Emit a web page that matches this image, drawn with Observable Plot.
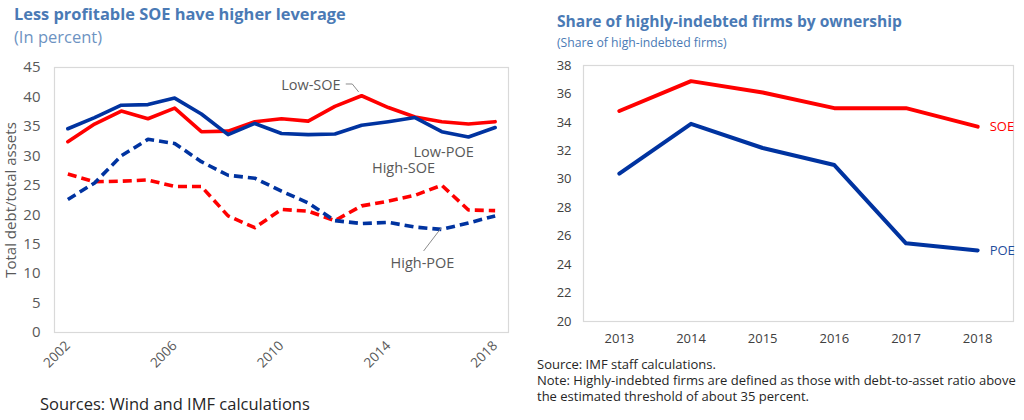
<!DOCTYPE html>
<html>
<head>
<meta charset="utf-8">
<script src="https://cdn.jsdelivr.net/npm/d3@7"></script>
<script src="https://cdn.jsdelivr.net/npm/@observablehq/plot@0.6"></script>
<style>
  body { margin: 0; background: #fff; font-family: "Open Sans", sans-serif; }
  #page { position: relative; width: 1024px; height: 420px; overflow: hidden; background: #fff; }
  .t { position: absolute; white-space: nowrap; line-height: 1; }
  .title { font-weight: 700; color: #4a7ab5; }
  .sub { color: #6d93c2; }
  .note { color: #262626; }
  #left, #right { position: absolute; top: 50px; }
  #left { left: 0; }
  #right { left: 520px; }
</style>
</head>
<body>
<div id="page">
  <div class="t title" style="left:14px;top:6px;font-size:16.4px">Less profitable SOE have higher leverage</div>
  <div class="t sub" style="left:14px;top:29px;font-size:16.5px">(In percent)</div>
  <div class="t title" style="left:557px;top:14px;font-size:15.6px">Share of highly-indebted firms by ownership</div>
  <div class="t sub" style="left:557px;top:37px;font-size:12.2px;color:#4a7ab5">(Share of high-indebted firms)</div>
  <div id="left"></div>
  <div id="right"></div>
  <div class="t note" style="left:40px;top:396px;font-size:16.5px">Sources: Wind and IMF calculations</div>
  <div class="t note" style="left:537px;top:358px;font-size:13px">Source: IMF staff calculations.</div>
  <div class="t note" style="left:537px;top:374px;font-size:13px">Note: Highly-indebted firms are defined as those with debt-to-asset ratio above</div>
  <div class="t note" style="left:537px;top:390px;font-size:13px">the estimated threshold of about 35 percent.</div>
</div>
<script>
// Leverage by profitability and ownership, 2002-2018 (total debt / total assets, %)
const years = [2002, 2003, 2004, 2005, 2006, 2007, 2008, 2009, 2010, 2011, 2012, 2013, 2014, 2015, 2016, 2017, 2018];
const lowPOE  = [34.6, 36.5, 38.6, 38.7, 39.8, 37.1, 33.6, 35.5, 33.8, 33.6, 33.7, 35.2, 35.8, 36.5, 34.1, 33.2, 34.8];
const lowSOE  = [32.4, 35.4, 37.6, 36.3, 38.1, 34.1, 34.2, 35.8, 36.3, 35.9, 38.4, 40.2, 38.2, 36.6, 35.8, 35.4, 35.8];
const highPOE = [22.6, 25.4, 30.0, 32.8, 32.1, 29.0, 26.7, 26.2, 24.0, 22.0, 19.0, 18.5, 18.7, 17.9, 17.5, 18.6, 19.8];
const highSOE = [26.9, 25.6, 25.7, 25.9, 24.8, 24.8, 19.8, 17.8, 20.9, 20.6, 19.0, 21.5, 22.3, 23.3, 25.0, 20.8, 20.7];
const leftYTicks = [0, 5, 10, 15, 20, 25, 30, 35, 40, 45];
const leftXTicks = [2002, 2006, 2010, 2014, 2018];

// Series labels placed beside the lines
const leftLabels = [
  {year: 2011.1, value: 42.0, text: "Low-SOE"},
  {year: 2016.07, value: 30.6, text: "Low-POE"},
  {year: 2014.57, value: 27.9, text: "High-SOE"},
  {year: 2015.28, value: 11.7, text: "High-POE"}
];
const leaderLowSOE = [{year: 2012.42, value: 42.2}, {year: 2012.65, value: 42.2}, {year: 2012.88, value: 40.9}];
const leaderHighPOE = [{year: 2015.33, value: 13.9}, {year: 2015.97, value: 17.7}];

// Share of highly-indebted firms, 2013-2018 (%)
const shareYears = [2013, 2014, 2015, 2016, 2017, 2018];
const shareSOE = [34.8, 36.9, 36.1, 35.0, 35.0, 33.7];
const sharePOE = [30.4, 33.9, 32.2, 31.0, 25.5, 25.0];
const rightYTicks = [20, 22, 24, 26, 28, 30, 32, 34, 36, 38];

const RED = "#ff0000";
const BLUE = "#0033a0";

const toRows = (xs, ys) => xs.map((x, i) => ({year: x, value: ys[i]}));

const left = Plot.plot({
  width: 520,
  height: 332,
  marginLeft: 54,
  marginRight: 12,
  marginTop: 17,
  marginBottom: 50,
  style: {fontFamily: "Open Sans, sans-serif", background: "transparent"},
  x: {domain: [2001.5, 2018.5]},
  y: {domain: [0, 45]},
  marks: [
    Plot.frame({stroke: "#d9d9d9", strokeWidth: 1.2}),
    Plot.axisY({ticks: leftYTicks, tickSize: 0, tickPadding: 14, fontSize: 15, color: "#595959",
      label: "Total debt/total assets", labelAnchor: "center", labelArrow: "none", labelOffset: 49}),
    Plot.axisX({ticks: leftXTicks, tickSize: 0, tickPadding: 11, tickRotate: -45, tickFormat: "d",
      fontSize: 13.5, color: "#595959", label: null}),
    Plot.line(toRows(years, highSOE), {x: "year", y: "value", stroke: RED, strokeWidth: 3.6,
      strokeDasharray: "9,5", strokeLinecap: "butt"}),
    Plot.line(toRows(years, highPOE), {x: "year", y: "value", stroke: BLUE, strokeWidth: 3.6,
      strokeDasharray: "9,5", strokeLinecap: "butt"}),
    Plot.line(toRows(years, lowSOE), {x: "year", y: "value", stroke: RED, strokeWidth: 3.6}),
    Plot.line(toRows(years, lowPOE), {x: "year", y: "value", stroke: BLUE, strokeWidth: 3.6}),
    Plot.line(leaderLowSOE, {x: "year", y: "value", stroke: "#8c8c8c", strokeWidth: 1}),
    Plot.line(leaderHighPOE, {x: "year", y: "value", stroke: "#8c8c8c", strokeWidth: 1}),
    Plot.text(leftLabels, {x: "year", y: "value", text: "text", fontSize: 14.5, fill: "#595959"})
  ]
});
document.getElementById("left").appendChild(left);

const soeRows = toRows(shareYears, shareSOE);
const poeRows = toRows(shareYears, sharePOE);

const right = Plot.plot({
  width: 504,
  height: 302,
  marginLeft: 63,
  marginRight: 11,
  marginTop: 15,
  marginBottom: 31,
  style: {fontFamily: "Open Sans, sans-serif", background: "transparent"},
  x: {domain: [2012.5, 2018.5]},
  y: {domain: [20, 38]},
  marks: [
    Plot.frame({stroke: "#d9d9d9", strokeWidth: 1.2}),
    Plot.axisY({ticks: rightYTicks, tickSize: 0, tickPadding: 12, fontSize: 13, color: "#404040", label: null}),
    Plot.axisX({ticks: shareYears, tickSize: 0, tickPadding: 12, tickFormat: "d", fontSize: 13,
      color: "#404040", label: null}),
    Plot.line(soeRows, {x: "year", y: "value", stroke: RED, strokeWidth: 4}),
    Plot.line(poeRows, {x: "year", y: "value", stroke: BLUE, strokeWidth: 4}),
    Plot.text(soeRows.slice(-1), {x: "year", y: "value", text: () => "SOE", dx: 12, textAnchor: "start",
      fontSize: 13, fill: RED}),
    Plot.text(poeRows.slice(-1), {x: "year", y: "value", text: () => "POE", dx: 12, textAnchor: "start",
      fontSize: 13, fill: "#1f4e9c"})
  ]
});
document.getElementById("right").appendChild(right);
</script>
</body>
</html>
